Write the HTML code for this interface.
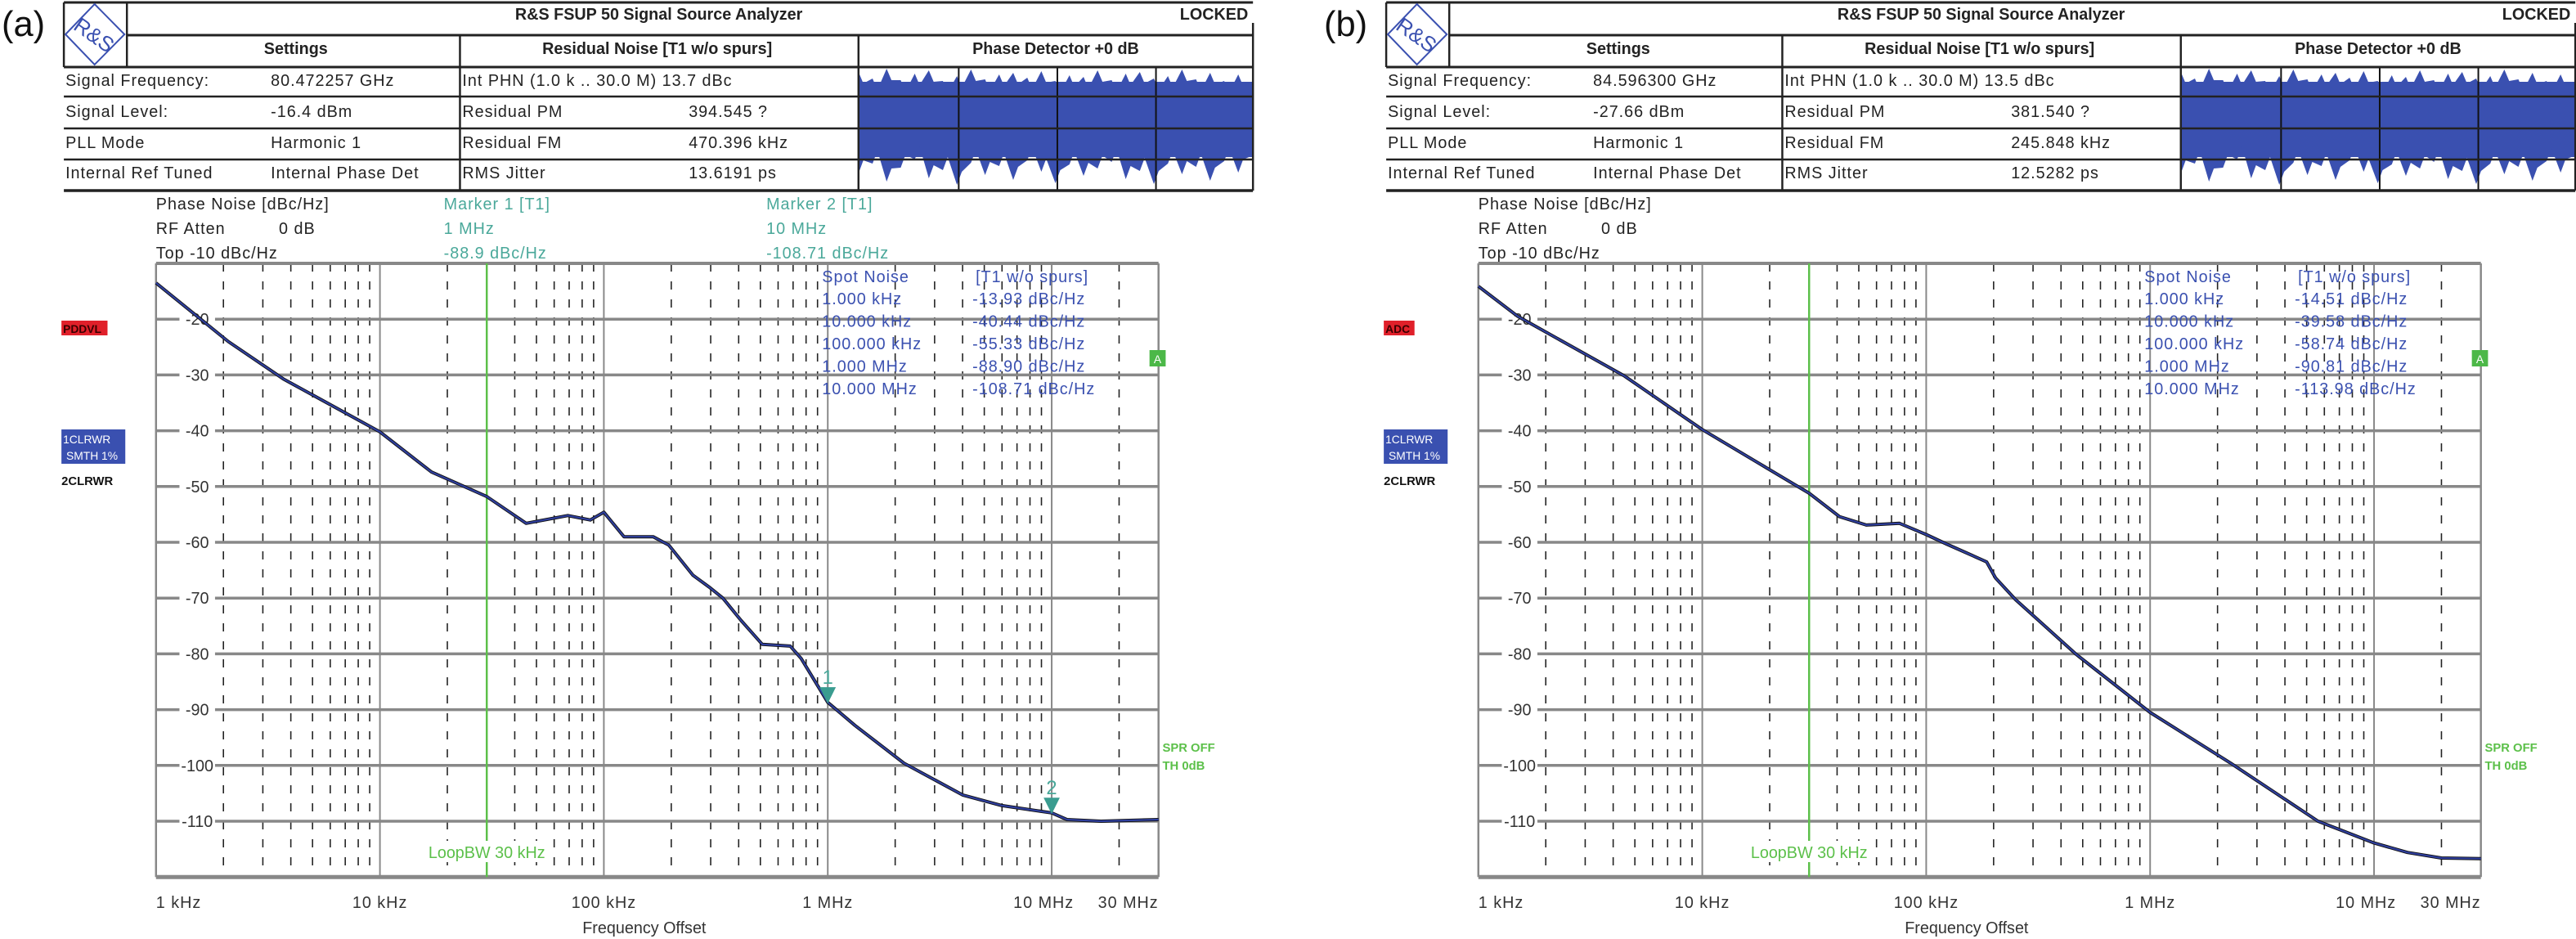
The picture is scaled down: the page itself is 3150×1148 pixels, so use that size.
<!DOCTYPE html>
<html><head><meta charset="utf-8"><style>
html,body{margin:0;padding:0;background:#fff;}
svg{display:block;}
text{font-family:"Liberation Sans",sans-serif;}
</style></head><body>
<svg id="root" width="3150" height="1148" viewBox="0 0 3150 1148" xmlns="http://www.w3.org/2000/svg"></svg>
<script>
// ---- Chart data ----
const tickFreqs = [1, 10, 100, 1000, 10000, 30000];           // kHz
const tickLabels = ["1 kHz", "10 kHz", "100 kHz", "1 MHz", "10 MHz", "30 MHz"];
const yTicks = [-20, -30, -40, -50, -60, -70, -80, -90, -100, -110];
const freqsA = [1, 2.1, 3.7, 10, 17, 30, 45, 69, 87, 100, 123, 166, 195, 250, 295, 340, 410, 510, 680, 760, 1000, 1320, 2190, 4000, 6000, 10000, 11700, 16600, 30000];
const noiseA = [-13.5, -24, -30.7, -40.2, -47.4, -51.8, -56.6, -55.2, -56, -54.6, -59, -59, -60.5, -65.9, -68, -70, -74, -78.3, -78.6, -80.8, -88.7, -92.8, -99.6, -105.3, -107.2, -108.5, -109.7, -110, -109.7];
const freqsB = [1, 1.5, 4.5, 10, 18, 30, 41, 54, 76, 100, 123, 186, 204, 251, 468, 1000, 2290, 5620, 10000, 14100, 20000, 30000];
const noiseB = [-14.1, -19.5, -30.2, -39.8, -45.9, -51.2, -55.4, -56.9, -56.6, -58.6, -60.3, -63.5, -66.4, -70.3, -80.1, -90.5, -99.6, -110, -113.9, -115.6, -116.6, -116.7];
const markerFreqsA = [1000, 10000];
const markerValsA = [-88.9, -108.71];
const spotFreqLabels = ["1.000 kHz", "10.000 kHz", "100.000 kHz", "1.000 MHz", "10.000 MHz"];
const spotValsA = ["-13.93", "-40.44", "-55.33", "-88.90", "-108.71"];
const spotValsB = ["-14.51", "-39.58", "-58.74", "-90.81", "-113.98"];

const NS = "http://www.w3.org/2000/svg";
const root = document.getElementById('root');
function el(tag, attrs, parent, txt) {
  const e = document.createElementNS(NS, tag);
  for (const k in attrs) e.setAttribute(k, attrs[k]);
  if (txt !== undefined) e.textContent = txt;
  parent.appendChild(e);
  return e;
}
// axis functions
const X0 = 193, DEC = 277, YTOP = 322, PXDB = 6.82;
function xs(fk) { return X0 + Math.log10(fk) * DEC; }
function ys(v) { return YTOP + (-10 - v) * PXDB; }
const FS = 20, LS = 1;

function panel(opt) {
  const g = el('g', {transform: opt.tf}, root);
  
  
  let t = el('text', {x: 2, y: 44, 'font-size': 44, fill: '#111'}, g, opt.letter);
  
  

  // ---- header table ----
  const tb = el('g', {}, g);
  
  
  const tr = el('g', {}, tb);
  
  
  el('rect', {x: 1062, y: 100, width: 488, height: 92, fill: '#3a50b0'}, tr);
  let d = 'M1062,100';
  const up = [88,96,84,98,90,86,99,93,85,97,91,89,95,87,99,92,94,86,98,90,88,96,93,85,97,89,99,91];
  for (let i = 0; i < up.length; i++) d += ' L' + (1062 + i * 17.4) + ',' + up[i] + ' L' + (1062 + i * 17.4 + 6) + ',' + (up[i] + 14);
  d += ' L1550,100 Z';
  el('path', {d: d, fill: '#3a50b0'}, tr);
  let d2 = 'M1062,190';
  const dn = [212,200,222,205,195,218,208,226,199,214,203,220,196,210,224,201,215,206,198,219,209,225,200,213,204,221,197,211];
  for (let i = 0; i < dn.length; i++) d2 += ' L' + (1062 + i * 17.4) + ',' + dn[i] + ' L' + (1062 + i * 17.4 + 6) + ',' + (dn[i] - 16);
  d2 += ' L1550,190 Z';
  el('path', {d: d2, fill: '#3a50b0'}, tr);
  [1186, 1308, 1430].forEach(x => el('line', {x1: x, y1: 82, x2: x, y2: 233, stroke: '#111', 'stroke-width': 2}, tr));

  const L = (x1, y1, x2, y2, w) => el('line', {x1, y1, x2, y2, stroke: '#222', 'stroke-width': w || 2.5}, tb);
  L(79, 3, 1550, 3, 3); L(157, 43, 1550, 43, 3); L(79, 82, 1550, 82, 3);
  [118, 157, 195].forEach(y => L(79, y, 1550, y, 2.5));
  L(79, 233, 1550, 233, 3.5);
  L(79, 3, 79, 82); L(157, 3, 157, 82); L(569, 43, 569, 233); L(1062, 43, 1062, 233); L(1550, 28, 1550, 233);
  const lg = el('g', {}, tb);
  
  
  el('polygon', {points: '117,5 154,42 117,79 81,42', fill: 'none', stroke: '#3a50b0', 'stroke-width': 2}, lg);
  el('text', {x: 117, y: 52, 'font-size': 26, fill: '#3a50b0', 'text-anchor': 'middle', transform: 'rotate(35 117 42)'}, lg, 'R&S');
  const T = (x, y, s, opts) => {
    const a = Object.assign({x, y, 'font-size': FS, 'letter-spacing': LS, fill: '#222'}, opts || {});
    return el('text', a, tb, s);
  };
  T(815, 24, 'R&S FSUP 50 Signal Source Analyzer', {'font-weight': 'bold', 'text-anchor': 'middle', 'letter-spacing': 0});
  T(1544, 24, 'LOCKED', {'font-weight': 'bold', 'text-anchor': 'end', 'letter-spacing': 0});
  T(366, 66, 'Settings', {'font-weight': 'bold', 'text-anchor': 'middle', 'letter-spacing': 0});
  T(813, 66, 'Residual Noise [T1 w/o spurs]', {'font-weight': 'bold', 'text-anchor': 'middle', 'letter-spacing': 0});
  T(1306, 66, 'Phase Detector +0 dB', {'font-weight': 'bold', 'text-anchor': 'middle', 'letter-spacing': 0});
  const rowsY = [105, 143, 181, 218];
  opt.rows.forEach((r, i) => {
    T(81, rowsY[i], r[0]); T(335, rowsY[i], r[1]); T(572, rowsY[i], r[2]); if (r[3]) T(852, rowsY[i], r[3]);
  });

  // ---- info text above plot ----
  const info = el('g', {}, g);
  
  
  const IT = (x, y, s, c) => el('text', {x, y, 'font-size': FS, 'letter-spacing': LS, fill: c || '#222'}, info, s);
  IT(193, 256, 'Phase Noise [dBc/Hz]');
  IT(193, 286, 'RF Atten');
  IT(345, 286, '0 dB');
  IT(193, 316, 'Top -10 dBc/Hz');
  if (opt.markers) {
    const mc = '#4aa89a';
    [[549, 'Marker 1 [T1]', '1 MHz', '-88.9 dBc/Hz'], [948, 'Marker 2 [T1]', '10 MHz', '-108.71 dBc/Hz']].forEach(m => {
      IT(m[0], 256, m[1], mc); IT(m[0], 286, m[2], mc); IT(m[0], 316, m[3], mc);
    });
  }

  // ---- plot ----
  const pl = el('g', {}, g);
  
  
  const xR = xs(30000), yB = ys(-120);
  for (let dec = 1; dec <= 10000; dec *= 10) {
    for (let m = 2; m <= 9; m++) {
      const f = dec * m; if (f >= 30000) continue;
      const ln = el('line', {x1: xs(f), y1: YTOP, x2: xs(f), y2: yB, stroke: '#222', 'stroke-width': 1.6, 'stroke-dasharray': '10 12'}, pl);
      
      
    }
  }
  [10, 100, 1000, 10000].forEach(f => el('line', {x1: xs(f), y1: YTOP, x2: xs(f), y2: yB, stroke: '#888', 'stroke-width': 2}, pl));
  el('line', {x1: X0, y1: YTOP, x2: X0, y2: yB, stroke: '#888', 'stroke-width': 2.5}, pl);
  el('line', {x1: xR, y1: YTOP, x2: xR, y2: yB, stroke: '#888', 'stroke-width': 2.5}, pl);
  el('line', {x1: X0, y1: YTOP, x2: xR, y2: YTOP, stroke: '#888', 'stroke-width': 4}, pl);
  el('line', {x1: X0, y1: yB, x2: xR, y2: yB, stroke: '#888', 'stroke-width': 5}, pl);
  yTicks.forEach(v => {
    const gl = el('line', {x1: X0, y1: ys(v), x2: xR, y2: ys(v), stroke: '#888', 'stroke-width': 3.5}, pl);
    
    
    el('rect', {x: 222, y: ys(v) - 11, width: 44, height: 22, fill: '#fff'}, pl);
    const lb = el('text', {x: 244, y: ys(v) + 7, 'font-size': FS, fill: '#333', 'text-anchor': 'middle'}, pl, String(v));
    
    
  });
  const lbx = xs(30);
  el('line', {x1: lbx, y1: YTOP, x2: lbx, y2: yB, stroke: '#5cc04a', 'stroke-width': 2.5}, pl);
  el('rect', {x: lbx - 68, y: 1028, width: 136, height: 26, fill: '#fff'}, pl);
  const lbt = el('text', {x: lbx, y: 1049, 'font-size': FS, fill: '#5cc04a', 'text-anchor': 'middle'}, pl, 'LoopBW 30 kHz');
  
  

  const sp = el('g', {}, pl);
  
  
  const bc = '#3a50b0';
  const ST = (x, y, s) => el('text', {x, y, 'font-size': FS, 'letter-spacing': LS, fill: bc}, sp, s);
  ST(1017, 345, 'Spot Noise');
  ST(1207, 345, '[T1 w/o spurs]');
  spotFreqLabels.forEach((s, i) => {
    ST(1017, 372 + i * 27.5, s);
    ST(1203, 372 + i * 27.5, opt.spot[i] + ' dBc/Hz');
  });

  const pts = opt.freqs.map((f, i) => xs(f).toFixed(1) + ',' + ys(opt.vals[i]).toFixed(1)).join(' ');
  const c1 = el('polyline', {points: pts, fill: 'none', stroke: '#111', 'stroke-width': 4, 'stroke-linejoin': 'round'}, pl);
  
  
  const c2 = el('polyline', {points: pts, fill: 'none', stroke: '#2f3f9e', 'stroke-width': 2.2, 'stroke-linejoin': 'round'}, pl);
  
  

  if (opt.markers) {
    markerFreqsA.forEach((f, i) => {
      const mx = xs(f), my = ys(markerValsA[i]);
      const mk = el('polygon', {points: (mx - 10) + ',' + (my - 20) + ' ' + (mx + 10) + ',' + (my - 20) + ' ' + mx + ',' + my, fill: '#3a9c90'}, pl);
      
      
      el('text', {x: mx, y: my - 24, 'font-size': 24, fill: '#4aa89a', 'text-anchor': 'middle'}, pl, String(i + 1));
    });
  }

  tickFreqs.forEach((f, i) => {
    let anchor = 'middle', x = xs(f);
    if (i === 0) anchor = 'start';
    if (i === tickFreqs.length - 1) anchor = 'end';
    if (i === tickFreqs.length - 2) x -= 10;
    const tl = el('text', {x: x, y: 1110, 'font-size': FS, 'letter-spacing': LS, fill: '#333', 'text-anchor': anchor}, pl, tickLabels[i]);
    
    
  });
  const xt = el('text', {x: 797, y: 1141, 'font-size': FS, fill: '#333', 'text-anchor': 'middle'}, pl, 'Frequency Offset');
  
  

  const bd = el('g', {}, g);
  
  
  el('rect', {x: 76, y: 392, width: opt.redW, height: 18, fill: '#e0202a'}, bd);
  el('text', {x: 78, y: 407, 'font-size': 14, 'font-weight': 'bold', fill: '#3a0000'}, bd, opt.redLabel);
  el('rect', {x: 76, y: 525, width: 79, height: 42, fill: '#3a50b0'}, bd);
  el('text', {x: 78, y: 542, 'font-size': 14, fill: '#fff'}, bd, '1CLRWR');
  el('text', {x: 82, y: 562, 'font-size': 14, fill: '#fff'}, bd, 'SMTH 1%');
  el('text', {x: 76, y: 593, 'font-size': 15, 'font-weight': 'bold', fill: '#111'}, bd, '2CLRWR');
  el('rect', {x: 1422, y: 428, width: 20, height: 20, fill: '#4cb848'}, bd);
  el('text', {x: 1432, y: 444, 'font-size': 14, fill: '#fff', 'text-anchor': 'middle'}, bd, 'A');
  el('text', {x: 1438, y: 919, 'font-size': 15, 'font-weight': 'bold', fill: '#5cc04a'}, bd, 'SPR OFF');
  el('text', {x: 1438, y: 941, 'font-size': 15, 'font-weight': 'bold', fill: '#5cc04a'}, bd, 'TH 0dB');
}

panel({
  name: 'panel-a', letter: '(a)', tf: 'scale(0.9885,1)',
  rows: [['Signal Frequency:', '80.472257 GHz', 'Int PHN (1.0 k .. 30.0 M) 13.7 dBc'], ['Signal Level:', '-16.4 dBm', 'Residual PM', '394.545 ?'], ['PLL Mode', 'Harmonic 1', 'Residual FM', '470.396 kHz'], ['Internal Ref Tuned', 'Internal Phase Det', 'RMS Jitter', '13.6191 ps']],
  freqs: freqsA, vals: noiseA, spot: spotValsA, markers: true, redLabel: 'PDDVL', redW: 57
});
panel({
  name: 'panel-b', letter: '(b)', tf: 'translate(1617,0) scale(0.9885,1)',
  rows: [['Signal Frequency:', '84.596300 GHz', 'Int PHN (1.0 k .. 30.0 M) 13.5 dBc'], ['Signal Level:', '-27.66 dBm', 'Residual PM', '381.540 ?'], ['PLL Mode', 'Harmonic 1', 'Residual FM', '245.848 kHz'], ['Internal Ref Tuned', 'Internal Phase Det', 'RMS Jitter', '12.5282 ps']],
  freqs: freqsB, vals: noiseB, spot: spotValsB, markers: false, redLabel: 'ADC', redW: 38
});
</script>
</body></html>
